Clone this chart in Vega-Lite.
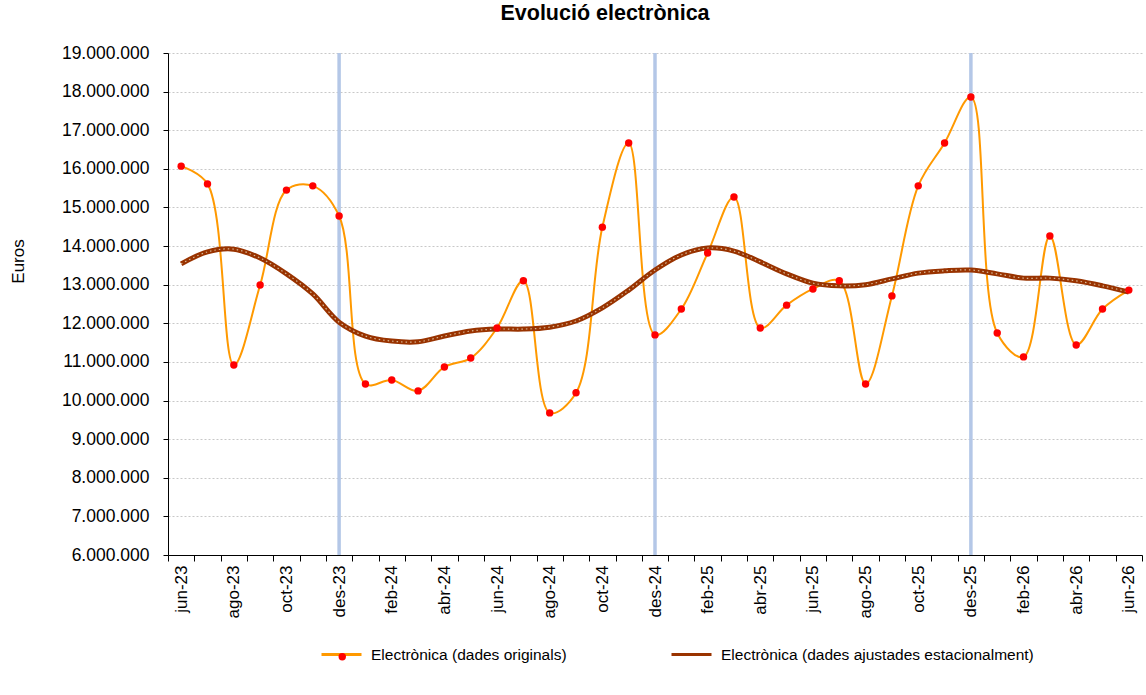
{
  "$schema": "https://vega.github.io/schema/vega-lite/v6.json",
  "autosize": {"type": "none"},
  "width": 974,
  "height": 502,
  "padding": {"left": 168, "top": 53, "right": 4, "bottom": 140},
  "background": "white",
  "config": {
    "locale": {"number": {"decimal": ",", "thousands": ".", "grouping": [3], "currency": ["", " €"]}},
    "font": "Liberation Sans",
    "view": {"stroke": null},
    "legend": {"padding": 0},
    "axisY": {
      "titleFontSize": 17, "titleFontWeight": "normal", "titleColor": "#000000",
      "labelFontSize": 17.5, "labelColor": "#000000", "labelPadding": 14, "labelOverlap": false,
      "tickColor": "#000000", "tickSize": 5, "domainColor": "#000000",
      "gridColor": "#C8C8C8", "gridDash": [2, 2], "gridWidth": 1
    }
  },
  "title": {"text": "Evolució electrònica", "fontSize": 21.5, "fontWeight": "bold", "font": "Liberation Sans", "color": "#000000", "offset": 20, "dx": -50},
  "data": {"values": [
    {"mes": "jun-23", "orig": 16070000, "ajust": 13540000},
    {"mes": "jul-23", "orig": 15610000, "ajust": 13850000},
    {"mes": "ago-23", "orig": 10920000, "ajust": 13920000},
    {"mes": "set-23", "orig": 12990000, "ajust": 13690000},
    {"mes": "oct-23", "orig": 15450000, "ajust": 13280000},
    {"mes": "nov-23", "orig": 15560000, "ajust": 12760000},
    {"mes": "des-23", "orig": 14780000, "ajust": 12030000},
    {"mes": "gen-24", "orig": 10430000, "ajust": 11670000},
    {"mes": "feb-24", "orig": 10530000, "ajust": 11540000},
    {"mes": "mar-24", "orig": 10250000, "ajust": 11520000},
    {"mes": "abr-24", "orig": 10870000, "ajust": 11670000},
    {"mes": "mai-24", "orig": 11100000, "ajust": 11800000},
    {"mes": "jun-24", "orig": 11880000, "ajust": 11850000},
    {"mes": "jul-24", "orig": 13100000, "ajust": 11850000},
    {"mes": "ago-24", "orig": 9680000, "ajust": 11900000},
    {"mes": "set-24", "orig": 10200000, "ajust": 12060000},
    {"mes": "oct-24", "orig": 14490000, "ajust": 12400000},
    {"mes": "nov-24", "orig": 16670000, "ajust": 12860000},
    {"mes": "des-24", "orig": 11700000, "ajust": 13380000},
    {"mes": "gen-25", "orig": 12370000, "ajust": 13770000},
    {"mes": "feb-25", "orig": 13820000, "ajust": 13950000},
    {"mes": "mar-25", "orig": 15270000, "ajust": 13870000},
    {"mes": "abr-25", "orig": 11880000, "ajust": 13590000},
    {"mes": "mai-25", "orig": 12470000, "ajust": 13280000},
    {"mes": "jun-25", "orig": 12890000, "ajust": 13040000},
    {"mes": "jul-25", "orig": 13100000, "ajust": 12970000},
    {"mes": "ago-25", "orig": 10430000, "ajust": 13000000},
    {"mes": "set-25", "orig": 12710000, "ajust": 13150000},
    {"mes": "oct-25", "orig": 15560000, "ajust": 13300000},
    {"mes": "nov-25", "orig": 16670000, "ajust": 13360000},
    {"mes": "des-25", "orig": 17860000, "ajust": 13380000},
    {"mes": "gen-26", "orig": 11750000, "ajust": 13280000},
    {"mes": "feb-26", "orig": 11130000, "ajust": 13170000},
    {"mes": "mar-26", "orig": 14260000, "ajust": 13170000},
    {"mes": "abr-26", "orig": 11440000, "ajust": 13100000},
    {"mes": "mai-26", "orig": 12370000, "ajust": 12970000},
    {"mes": "jun-26", "orig": 12860000, "ajust": 12810000}
  ]},
  "encoding": {
    "x": {
      "field": "mes", "type": "ordinal", "sort": null,
      "scale": {"type": "band", "paddingInner": 0, "paddingOuter": 0,
        "domain": ["jun-23","jul-23","ago-23","set-23","oct-23","nov-23","des-23","gen-24","feb-24","mar-24","abr-24","mai-24","jun-24","jul-24","ago-24","set-24","oct-24","nov-24","des-24","gen-25","feb-25","mar-25","abr-25","mai-25","jun-25","jul-25","ago-25","set-25","oct-25","nov-25","des-25","gen-26","feb-26","mar-26","abr-26","mai-26","jun-26"]},
      "axis": {
        "title": null, "labelAngle": -90, "labelFontSize": 17, "labelColor": "#000000",
        "labelExpr": "test(/^(jun|ago|oct|des|feb|abr)/, datum.value) ? datum.value : ''",
        "tickBand": "extent", "tickColor": "#000000", "tickSize": 6, "domainColor": "#000000",
        "domainWidth": 1, "labelPadding": 4, "grid": false, "labelOverlap": false
      }
    }
  },
  "layer": [
    {
      "data": {"values": [{"mes": "des-23"}, {"mes": "des-24"}, {"mes": "des-25"}]},
      "mark": {"type": "rule", "color": "#B4C7E7", "strokeWidth": 3.5},
      "encoding": {"x": {"field": "mes", "type": "ordinal", "sort": null}}
    },
    {
      "mark": {"type": "line", "interpolate": "catmull-rom", "strokeWidth": 2},
      "encoding": {
        "y": {
          "field": "orig", "type": "quantitative",
          "scale": {"domain": [6000000, 19000000], "nice": false, "zero": false},
          "axis": {"title": "Euros", "titleX": -150, "titleY": 208, "titleAngle": -90, "titleAlign": "center", "titleBaseline": "middle", "format": ",d",
            "values": [6000000,7000000,8000000,9000000,10000000,11000000,12000000,13000000,14000000,15000000,16000000,17000000,18000000,19000000]}
        },
        "stroke": {
          "datum": "Electrònica (dades originals)",
          "scale": {"domain": ["Electrònica (dades originals)", "Electrònica (dades ajustades estacionalment)"], "range": ["#FF9900", "#993300"]},
          "legend": {
            "title": null, "orient": "none", "legendX": 152, "legendY": 580, "direction": "horizontal",
            "symbolType": "stroke", "symbolSize": 1600, "symbolStrokeWidth": 3,
            "labelFontSize": 15.5, "labelColor": "#000000", "labelLimit": 500, "columnPadding": 98, "labelOffset": 8
          }
        }
      }
    },
    {
      "mark": {"type": "line", "interpolate": "catmull-rom", "strokeWidth": 5},
      "encoding": {
        "y": {"field": "ajust", "type": "quantitative",
          "axis": {"title": "Euros", "titleX": -150, "titleY": 208, "titleAngle": -90, "titleAlign": "center", "titleBaseline": "middle", "format": ",d",
            "values": [6000000,7000000,8000000,9000000,10000000,11000000,12000000,13000000,14000000,15000000,16000000,17000000,18000000,19000000]}},
        "stroke": {"datum": "Electrònica (dades ajustades estacionalment)"}
      }
    },
    {
      "mark": {"type": "line", "interpolate": "catmull-rom", "strokeWidth": 1.2, "color": "#D9B896", "strokeDash": [1.5, 3]},
      "encoding": {
        "y": {"field": "ajust", "type": "quantitative",
          "axis": {"title": "Euros", "titleX": -150, "titleY": 208, "titleAngle": -90, "titleAlign": "center", "titleBaseline": "middle", "format": ",d",
            "values": [6000000,7000000,8000000,9000000,10000000,11000000,12000000,13000000,14000000,15000000,16000000,17000000,18000000,19000000]}}
      }
    },
    {
      "mark": {"type": "point", "filled": true, "size": 55, "opacity": 1},
      "encoding": {
        "y": {"field": "orig", "type": "quantitative",
          "axis": {"title": "Euros", "titleX": -150, "titleY": 208, "titleAngle": -90, "titleAlign": "center", "titleBaseline": "middle", "format": ",d",
            "values": [6000000,7000000,8000000,9000000,10000000,11000000,12000000,13000000,14000000,15000000,16000000,17000000,18000000,19000000]}},
        "fill": {
          "datum": "punt",
          "scale": {"domain": ["punt"], "range": ["#FF0000"]},
          "legend": {"title": null, "orient": "none", "legendX": 166.5, "legendY": 596, "symbolType": "circle", "symbolSize": 55, "symbolStrokeWidth": 0, "labelExpr": "''", "labelFontSize": 15.5}
        }
      }
    }
  ],
  "resolve": {"scale": {"y": "shared"}}
}
